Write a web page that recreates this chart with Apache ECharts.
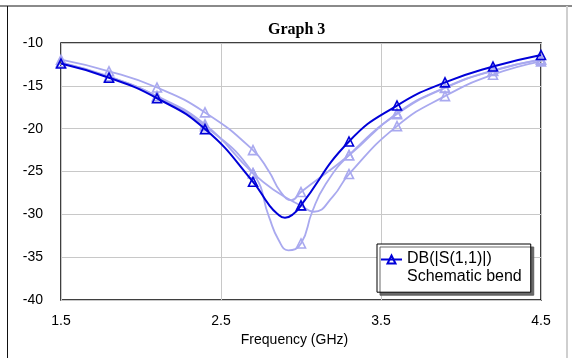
<!DOCTYPE html>
<html>
<head>
<meta charset="utf-8">
<script src="https://cdn.jsdelivr.net/npm/echarts@6/dist/echarts.min.js"></script>
<style>
html,body{margin:0;padding:0;background:#fff;}
#chart{width:572px;height:358px;}
</style>
</head>
<body>
<div id="chart"></div>
<script>
// Marker frequencies (GHz)
const freqGHz = [1.5, 1.8, 2.1, 2.4, 2.7, 3.0, 3.3, 3.6, 3.9, 4.2, 4.5];
// DB(|S(1,1)|) Schematic bend (dark trace) at marker frequencies
const s11Schematic = [-12.4, -14.05, -16.45, -20.05, -26.2, -28.95, -21.5, -17.3, -14.6, -12.75, -11.4];
// Other (light) traces at marker frequencies
const s11TraceA = [-11.95, -13.3, -15.2, -18.1, -22.5, -27.4, -23.1, -18.2, -15.2, -13.2, -11.9];
const s11TraceB = [-12.3, -13.95, -16.25, -19.7, -25.2, -33.4, -23.1, -18.3, -15.25, -13.25, -11.95];
const s11TraceC = [-12.25, -13.9, -16.2, -19.5, -25.2, -29.0, -25.3, -19.7, -16.2, -13.7, -12.15];
// Curve readings between markers around the resonance (no marker drawn)
const dipFreqSchematic = [2.8, 2.85, 2.9, 2.95];
const dipValSchematic = [-28.9, -29.9, -30.4, -30.0];
const dipFreqA = [2.8, 2.87, 2.94];
const dipValA = [-25.0, -27.3, -28.35];
const dipFreqB = [2.8, 2.86, 2.92, 3.07, 3.15];
const dipValB = [-30.3, -33.0, -34.2, -29.7, -26.6];
const dipFreqC = [2.85, 3.08, 3.2];
const dipValC = [-27.4, -29.7, -27.9];
// Axis ticks
const xTicks = [1.5, 2.5, 3.5, 4.5];
const yTicks = [-40, -35, -30, -25, -20, -15, -10];

const darkBlue = '#0000d8';
const lightBlue = '#a9a9ef';

function buildPoints(markVals, dipF, dipV) {
  const pts = freqGHz.map((f, i) => ({ value: [f, markVals[i]] }));
  dipF.forEach((f, i) => pts.push({ value: [f, dipV[i]], symbol: 'none' }));
  pts.sort((a, b) => a.value[0] - b.value[0]);
  return pts;
}

function traceSeries(name, pts, color, width, z) {
  return {
    name: name,
    type: 'line',
    data: pts,
    smooth: 0.5,
    z: z,
    symbol: 'triangle',
    symbolSize: 9,
    showSymbol: true,
    showAllSymbol: true,
    lineStyle: { color: color, width: width },
    itemStyle: { color: 'rgba(255,255,255,0)', borderColor: color, borderWidth: 1.6 },
    emphasis: { disabled: true }
  };
}

const font = 'Liberation Sans, Arial, sans-serif';
const chart = echarts.init(document.getElementById('chart'), null, { renderer: 'canvas' });
chart.setOption({
  animation: false,
  backgroundColor: '#fff',
  title: {
    text: 'Graph 3',
    left: 268,
    top: 22,
    padding: 0,
    textStyle: { fontFamily: 'Liberation Serif, Times New Roman, serif', fontWeight: 'bold', fontSize: 16, color: '#000' }
  },
  grid: {
    left: 61, right: 31, top: 43, bottom: 58,
    show: true, borderColor: '#000', borderWidth: 1.5, backgroundColor: 'transparent'
  },
  xAxis: {
    type: 'value',
    min: xTicks[0], max: xTicks[xTicks.length - 1], interval: 1,
    name: 'Frequency (GHz)',
    nameLocation: 'middle',
    nameGap: 30,
    nameTextStyle: { fontFamily: font, fontSize: 14, color: '#000', padding: [0, 13, 0, 0] },
    axisLine: { show: false },
    axisTick: { show: false },
    axisLabel: { fontFamily: font, fontSize: 14, color: '#000', margin: 14 },
    splitLine: { show: true, lineStyle: { color: '#c8c8c8', width: 1 } }
  },
  yAxis: {
    type: 'value',
    min: yTicks[0], max: yTicks[yTicks.length - 1], interval: 5,
    axisLine: { show: false },
    axisTick: { show: false },
    axisLabel: { fontFamily: font, fontSize: 14, color: '#000', margin: 18 },
    splitLine: { show: true, lineStyle: { color: '#c8c8c8', width: 1 } }
  },
  legend: {
    data: ['DB(|S(1,1)|)'],
    left: 377, top: 244,
    orient: 'vertical',
    backgroundColor: '#fff',
    borderColor: '#000',
    borderWidth: 1,
    padding: [7, 9, 8, 3],
    shadowColor: 'rgba(90,90,90,0.9)',
    shadowOffsetX: 3, shadowOffsetY: 3, shadowBlur: 0,
    itemWidth: 21, itemHeight: 10,
    selectedMode: false,
    formatter: n => '{a|' + n + '}\n{b|Schematic bend}',
    textStyle: {
      fontFamily: font, fontSize: 16, color: '#000',
      rich: {
        a: { fontFamily: font, fontSize: 16, color: '#000', lineHeight: 33.4 },
        b: { fontFamily: font, fontSize: 16, color: '#000', lineHeight: 1 }
      }
    }
  },
  graphic: [
    { type: 'line', shape: { x1: 0, y1: 6, x2: 572, y2: 6 }, style: { stroke: '#8a8a8a', lineWidth: 2 }, silent: true },
    { type: 'line', shape: { x1: 7.5, y1: 6, x2: 7.5, y2: 358 }, style: { stroke: '#111', lineWidth: 1 }, silent: true },
    { type: 'line', shape: { x1: 567, y1: 6, x2: 567, y2: 358 }, style: { stroke: '#cfcfcf', lineWidth: 2 }, silent: true }
  ],
  series: [
    traceSeries('Trace A', buildPoints(s11TraceA, dipFreqA, dipValA), lightBlue, 1.8, 2),
    traceSeries('Trace B', buildPoints(s11TraceB, dipFreqB, dipValB), lightBlue, 1.8, 2),
    traceSeries('Trace C', buildPoints(s11TraceC, dipFreqC, dipValC), lightBlue, 1.8, 2),
    traceSeries('DB(|S(1,1)|)', buildPoints(s11Schematic, dipFreqSchematic, dipValSchematic), darkBlue, 2, 3)
  ]
});
</script>
</body>
</html>
